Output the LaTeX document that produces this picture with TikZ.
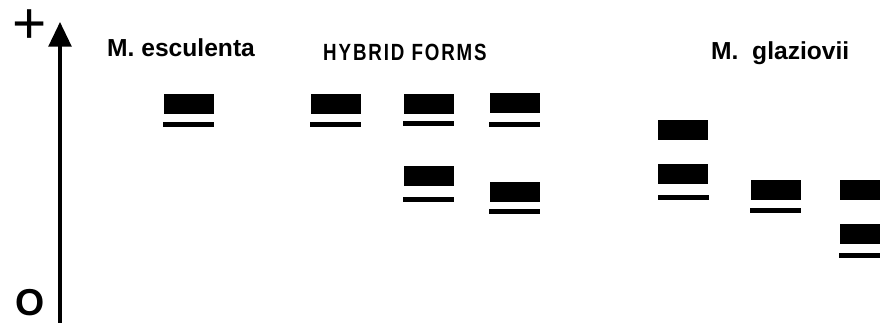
\documentclass[tikz,border=0pt]{standalone}
\usepackage{fontspec}
\setmainfont{Liberation Sans}
\newfontfamily\stencilfont[FakeStretch=0.8,LetterSpace=8]{Liberation Sans}
\usepackage{tikz}
\usetikzlibrary{arrows.meta,positioning}
\tikzset{
  band/.style={fill=black},
  axis/.style={line width=2.6pt, -{Triangle[length=21pt, width=19.5pt]}},
  species/.style={font=\fontsize{21}{21}\selectfont\bfseries, anchor=base west, inner sep=0pt},
  hybrid/.style={font=\stencilfont\fontsize{20}{20}\selectfont\bfseries, anchor=base west, inner sep=0pt},
  pole/.style={inner sep=0pt}
}
\newcommand{\thickband}[2]{\fill[band] (#1,#2) rectangle ++(50,20);}
\newcommand{\thinband}[2]{\fill[band] (#1,#2) rectangle ++(51,5);}

\begin{document}
\begin{tikzpicture}[x=0.03cm,y=-0.03cm]
\path[use as bounding box] (0,0) rectangle (880,322);
\fill[white] (0,0) rectangle (880,322);

% electrode marks and migration axis
\node[pole, font=\fontsize{50}{50}\selectfont] (anode) at (30,27) {+};
\node[pole, font=\fontsize{32}{32}\selectfont\bfseries] (origin) at (30,303) {O};
\coordinate (axisfoot) at (60,330);
\coordinate (axistip) at (60,22);
\draw[axis] (axisfoot) -- (axistip);

% lane headings
\node[species] (escu) at (107,56) {M. esculenta};
\node[hybrid] (hyb) at (323,60) {HYBRID FORMS};
\node[species] (glaz) at (711,59) {M.\ \ glaziovii};

% M. esculenta
\thickband{164}{94} \thinband{163}{122}

% hybrid forms
\thickband{311}{94} \thinband{310}{122}
\thickband{404}{94} \thinband{403}{121}
\thickband{404}{166} \thinband{403}{197}
\thickband{490}{93} \thinband{489}{122}
\thickband{490}{182} \thinband{489}{209}

% M. glaziovii
\thickband{658}{120}
\thickband{658}{164} \thinband{658}{195}
\thickband{751}{180} \thinband{750}{208}
\thickband{840}{180}
\thickband{840}{224} \thinband{839}{253}
\end{tikzpicture}
\end{document}
